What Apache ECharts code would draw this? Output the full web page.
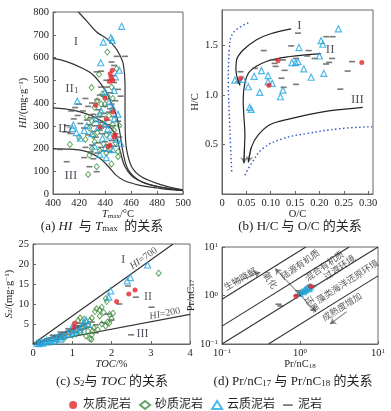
<!DOCTYPE html>
<html><head><meta charset="utf-8">
<script src="https://cdn.jsdelivr.net/npm/echarts@6/dist/echarts.min.js"></script>
<style>html,body{margin:0;padding:0;background:#fff}#c{width:391px;height:411px}</style>
</head><body><div id="c"></div>
<script>
// ---------- (a) HI vs Tmax ----------
const aRed = [[444,529],[444.6,512],[445.6,544],[446,500],[443.3,494],[432.8,390],[440,421],[436,295],[447.7,259],[443.8,215],[442.6,208],[447,251],[441,330],[446,360]];
const aGreen = [[441.8,624],[449,551],[435.4,526],[429.7,468],[413,218],[427,86],[433.6,120],[450,186],[450,164],[445,132],[438,440],[445,470],[440,395],[432,380],[436,350],[443,345],[430,320],[438,310],[446,305],[428,290],[434,270],[441,260],[447,280],[425,240],[432,230],[439,220],[444,200],[430,200],[436,190],[441,180],[428,170],[448,225],[437,395],[451,300],[426,340],[420,250],[434,410],[442,430],[446,420],[431,255]];
const aBlue = [[452.8,737],[444.6,687],[445.6,675],[438.7,668],[436.7,577],[451,544],[448,515],[418.7,408],[415.6,303],[415,288],[418,270],[421,245],[452,222],[440,450],[443,405],[437,365],[446,380],[433,330],[440,310],[447,330],[435,295],[442,285],[430,265],[444,255],[438,245],[426,300],[432,210],[440,200],[446,195],[436,175],[441,160],[449,240],[450,350],[424,280],[447,455]];
const aGray = [[410.5,142],[405.4,196],[428,120],[433.6,98],[445,580],[449,605],[455.4,605],[433.6,537],[437,540],[447,565],[441,500],[437,470],[447,490],[450,460],[452,430],[444,445],[439,430],[434,415],[430,400],[427,385],[423,365],[419,345],[416,330],[421,310],[426,325],[431,350],[435,370],[440,385],[445,395],[448,410],[443,360],[438,340],[433,320],[428,305],[424,290],[432,300],[437,315],[442,325],[447,340],[450,320],[446,300],[441,295],[436,280],[431,275],[427,260],[433,250],[438,265],[443,270],[448,265],[451,250],[445,235],[440,230],[435,225],[430,215],[425,205],[437,205],[442,215],[447,210],[444,185],[439,190],[434,180],[429,185],[424,160],[431,155],[420,395],[417,380],[414,365],[425,420],[436,435],[441,470],[446,520],[409,273],[413.6,266],[411,300],[439,355],[444,375],[435,340],[429,335],[442,305],[437,290]];
const aCurveA = [[419.5,800],[426,760],[433.6,712],[441.3,683],[447.7,646],[451.5,610],[454,573],[455.4,485],[455.4,369],[455.6,268],[456.7,193],[460.5,120],[468,76],[483.6,40],[500,18]];
const aCurveB = [[400,596],[410.5,582],[423,552],[431,523],[440,457],[445,398],[449,340],[451.5,267],[454,179],[458,105],[468,54],[485,28],[500,17]];
const aCurveC = [[400,379],[415.6,369],[428.5,347],[436,325],[443,298],[447.7,267],[451.5,193],[455.4,120],[463,69],[478,36],[500,16]];
const aCurveD = [[400,198],[415.6,196],[426,186],[436,157],[444,112],[448,85],[455,58],[467,38],[483,24],[500,15]];
const aLabels = [[417.7,670,'I'],[414.5,465,'II{s|1}'],[409,289,'II{s|2}'],[413.8,80,'III']];

// ---------- (b) H/C vs O/C ----------
const bRed = [[0.115,1.35],[0.038,1.17],[0.096,1.10],[0.287,1.33]];
const bBlue = [[0.0265,1.152],[0.0435,1.158],[0.054,1.084],[0.057,0.875],[0.06,0.855],[0.066,1.19],[0.0776,1.027],[0.081,1.247],[0.0946,1.196],[0.0946,1.135],[0.103,1.118],[0.12,0.983],[0.125,1.05],[0.1435,1.328],[0.151,1.328],[0.156,1.338],[0.158,1.48],[0.168,1.264],[0.183,1.18],[0.2,1.395],[0.2035,1.55],[0.207,1.514],[0.209,1.22],[0.239,1.67]];
const bGray = [[0.156,1.626],[0.0857,1.45],[0.038,1.236],[0.0673,1.27],[0.108,1.355],[0.108,1.32],[0.11,1.29],[0.1286,1.25],[0.125,1.355],[0.122,1.17],[0.1265,1.078],[0.142,1.497],[0.152,1.37],[0.152,1.108],[0.175,1.395],[0.178,1.45],[0.19,1.37],[0.214,1.59],[0.227,1.59],[0.226,1.37],[0.2136,1.314],[0.22,1.33],[0.243,1.06],[0.258,1.243],[0.267,1.338]];
const bCurveI = [[0.142,1.67],[0.1,1.62],[0.071,1.56],[0.0435,1.456],[0.03,1.355],[0.0286,1.25],[0.032,1.16],[0.037,1.10]];
const bCurveII = [[0.203,1.42],[0.139,1.39],[0.091,1.34],[0.057,1.24],[0.047,1.12],[0.0435,0.95],[0.045,0.78],[0.047,0.61],[0.046,0.45],[0.045,0.31]];
const bCurveIII = [[0.289,0.875],[0.207,0.83],[0.139,0.76],[0.098,0.70],[0.074,0.594],[0.0606,0.476],[0.054,0.32]];
const bDotLeft = [[0.054,1.73],[0.023,1.63],[0.015,1.46],[0.013,1.12],[0.016,0.68],[0.020,0.22]];
const bDotRight = [[0.047,0.19],[0.0606,0.31],[0.084,0.46],[0.125,0.56],[0.173,0.61],[0.241,0.66],[0.308,0.68]];
const bLabels = [[0.159,1.70,'I'],[0.222,1.456,'II'],[0.278,0.95,'III']];

// ---------- (c) S2 vs TOC ----------
const cRed = [[2.6,13.5],[2.44,12.5],[2.13,10.6],[1.06,5.2],[1.04,4.1]];
const cGreen = [[3.2,17.7],[1.855,11.4],[1.88,10.6],[1.7,8.5],[1.75,9.2],[1.62,8.8],[1.8,7.9],[1.95,7.4],[2.0,6.3],[1.9,5.5],[1.75,5.0],[1.5,6.5],[1.45,5.8],[1.3,6.2],[1.2,6.5],[1.15,5.9],[1.4,4.8],[1.55,4.0],[1.65,3.6],[1.4,3.2],[1.2,2.9],[1.5,2.3],[1.45,1.3],[1.0,2.2],[0.8,1.5],[0.6,1.1],[1.7,7.0],[1.58,8.1],[1.25,3.8],[1.85,4.5],[2.04,7.7],[1.1,2.5],[1.35,2.0],[1.94,5.2],[1.52,3.3],[1.49,1.2]];
const cBlue = [[2.92,19.75],[2.4,15.8],[2.48,16.6],[1.98,13.3],[1.93,11.7],[0.1,0.2],[0.2,0.4],[0.3,0.6],[0.35,0.9],[0.45,1.0],[0.5,1.3],[0.6,1.4],[0.65,1.8],[0.75,1.9],[0.8,2.3],[0.9,2.5],[1.0,2.7],[1.05,3.0],[1.1,3.5],[1.2,3.6],[1.25,4.5],[1.3,5.5],[1.35,6.0],[1.4,5.0],[0.55,0.8],[0.4,0.5],[0.25,0.2],[0.7,1.2],[1.0,4.3],[0.15,0.1]];
const cGray = [[0.1,0.3],[0.15,0.5],[0.2,0.6],[0.25,0.8],[0.3,1.0],[0.35,1.2],[0.4,1.3],[0.45,1.5],[0.5,1.6],[0.55,1.9],[0.6,2.0],[0.65,2.2],[0.7,2.4],[0.75,2.6],[0.8,2.8],[0.85,3.0],[0.9,3.2],[0.95,3.4],[1.0,3.6],[1.05,3.8],[1.1,4.0],[1.15,4.2],[1.2,4.4],[1.25,4.6],[1.3,4.9],[1.35,5.1],[0.6,1.5],[0.7,1.8],[0.8,2.1],[0.9,2.4],[1.0,2.8],[1.1,3.1],[1.2,3.5],[1.3,3.8],[1.4,4.2],[0.5,2.2],[0.7,3.0],[0.9,3.8],[1.1,4.6],[1.2,5.2],[2.42,14.5],[2.62,11.7],[3.02,9.2],[2.0,6.0],[1.8,5.3],[1.6,4.8],[1.5,5.5],[2.2,10],[1.9,7.5],[2.5,2.3],[1.6,2.8]];
const cLines = [[[0,0],[3.57,25]],[[0,0],[4,7.4]]];
const cLabels = [[2.3,21,'I',0],[2.93,11.8,'II',0],[2.79,2.5,'III',0],[2.82,21.4,'{i|HI}=700',35],[3.36,7.6,'{i|HI}=200',11]];

// ---------- (d) Pr/nC17 vs Pr/nC18 ----------
const dRed = [[0.89,0.97],[1.37,1.56]];
const dBlue = [[1.2,1.35],[1.28,1.45],[1.35,1.5],[1.15,1.28],[1.3,1.38],[1.0,1.1],[1.1,1.2]];
const dGreen = [[1.25,1.42],[1.05,1.18]];
const dGray = [[0.95,1.25],[1.0,1.15],[1.05,1.1],[0.95,1.05],[1.2,1.3],[1.4,1.45],[0.53,0.66],[0.56,0.61],[1.5,1.6],[0.9,1.0],[1.15,1.22]];
const dLines = [[[0.1,0.84],[1.19,10]],[[0.1,0.234],[4.27,10]],[[0.1,0.1],[10,10]],[[0.394,0.1],[10,2.54]]];
const dArrows = [[[0.141,1.82],[0.309,3.02],0],[[0.481,3.6],[1.61,0.461],1],[[3.96,0.461],[2.43,0.258],0]];
const dLabels = [[0.171,2.2,'生物降解',30],[0.415,2.07,'氧化',-55],[1.42,0.664,'还原',-55],[1.0,4.4,'陆源有机质',35],[2.05,4.1,'混合有机质',35],[3.2,3.85,'过渡环境',35],[4.04,1.97,'藻类海洋还原环境',33],[3.43,0.585,'成熟度增加',32]];

const FF = "'Liberation Serif','Noto Sans CJK SC',serif";
function rich(fs){return {
  i:{fontStyle:'italic',fontFamily:FF,fontSize:fs,color:'#222'},
  s:{fontSize:Math.round(fs*0.7),fontFamily:FF,verticalAlign:'bottom',color:'#222'},
  p:{fontSize:Math.round(fs*0.68),fontFamily:FF,verticalAlign:'top',color:'#222'}
};}

const STY = {
  '灰质泥岩': {symbol:'circle', symbolSize:5, itemStyle:{color:'#e3262b'}},
  '砂质泥岩': {symbol:'diamond', symbolSize:[5,6], itemStyle:{color:'rgba(255,255,255,0)', borderColor:'#3f8f3f', borderWidth:1}},
  '云质泥岩': {symbol:'triangle', symbolSize:6, itemStyle:{color:'rgba(255,255,255,0)', borderColor:'#22a6e0', borderWidth:1.2}},
  '泥岩': {symbol:'rect', symbolSize:[6,1.6], itemStyle:{color:'#555'}}
};

const series = [];
function pts(gi, name, data){ series.push(Object.assign({type:'scatter', name, xAxisIndex:gi, yAxisIndex:gi, data, silent:true, z:5}, STY[name])); }
function curve(gi, data, style, smooth){ series.push({type:'line', xAxisIndex:gi, yAxisIndex:gi, data, smooth: smooth===undefined?0.35:smooth, showSymbol:false, symbol:'none', silent:true, lineStyle:Object.assign({color:'#333', width:1.2}, style||{}), z:3}); }
function arrow(gi, p1, p2, both){ series.push({type:'lines', coordinateSystem:'cartesian2d', xAxisIndex:gi, yAxisIndex:gi, symbol:[both?'arrow':'none','arrow'], symbolSize:6, silent:true, lineStyle:{color:'#222', width:1.1, curveness:0}, data:[{coords:[p1,p2]}], z:4}); }
function labels(gi, items, fs, family, color){
  series.push({type:'scatter', xAxisIndex:gi, yAxisIndex:gi, symbolSize:1, silent:true, z:8,
    itemStyle:{color:'rgba(0,0,0,0)'},
    data: items.map(it=>({value:[it[0],it[1]], name:it[2], label:{rotate: it[3]||0}})),
    label:{show:true, position:'inside', formatter:p=>p.name, fontSize:fs, fontFamily:family||FF, color:color||'#2a2a3a', rich:rich(fs)}
  });
}

// (a)
curve(0, aCurveA); curve(0, aCurveB); curve(0, aCurveC); curve(0, aCurveD);
pts(0,'泥岩',aGray); pts(0,'砂质泥岩',aGreen); pts(0,'云质泥岩',aBlue); pts(0,'灰质泥岩',aRed);
labels(0, aLabels, 13);
// (b)
curve(1, bDotLeft, {color:'#2f52c8', width:1.4, type:[1.5,2.5]}, 0.4);
curve(1, bDotRight, {color:'#2f52c8', width:1.4, type:[1.5,2.5]}, 0.4);
curve(1, bCurveI, {color:'#222'}); curve(1, bCurveII, {color:'#222'}); curve(1, bCurveIII, {color:'#222'});
arrow(1, bCurveI[bCurveI.length-2], bCurveI[bCurveI.length-1]);
arrow(1, bCurveII[bCurveII.length-2], bCurveII[bCurveII.length-1]);
arrow(1, bCurveIII[bCurveIII.length-2], bCurveIII[bCurveIII.length-1]);
pts(1,'泥岩',bGray); pts(1,'云质泥岩',bBlue); pts(1,'灰质泥岩',bRed);
labels(1, bLabels, 13);
// (c)
cLines.forEach(l=>curve(2, l, {color:'#333', width:1.2}, false));
pts(2,'泥岩',cGray); pts(2,'砂质泥岩',cGreen); pts(2,'云质泥岩',cBlue); pts(2,'灰质泥岩',cRed);
labels(2, cLabels.slice(0,3), 12);
labels(2, cLabels.slice(3), 10);
// (d)
dLines.forEach(l=>curve(3, l, {color:'#333', width:1.1}, false));
dArrows.forEach(a=>arrow(3, a[0], a[1], a[2]));
pts(3,'泥岩',dGray); pts(3,'砂质泥岩',dGreen); pts(3,'云质泥岩',dBlue); pts(3,'灰质泥岩',dRed);
labels(3, dLabels, 9, "'Noto Sans CJK SC'", '#333');

const axLine = {show:true, lineStyle:{color:'#666', width:1}};
const axTick = {show:true, inside:true, length:3, lineStyle:{color:'#666'}};
const axLab = {fontSize:10.5, color:'#222', fontFamily:FF, margin:4};
const nameStyle = fs => ({fontSize:fs, color:'#222', fontFamily:FF, rich:rich(fs)});
function X(o){ return Object.assign({type:'value', axisLine:axLine, axisTick:axTick, splitLine:{show:false}, nameLocation:'middle', nameGap:14, nameTextStyle:nameStyle(10.5)}, o, {axisLabel:Object.assign({}, axLab, o.axisLabel||{})}); }
function Y(o){ return Object.assign({type:'value', axisLine:axLine, axisTick:axTick, splitLine:{show:false}, nameLocation:'middle', nameTextStyle:nameStyle(10.5)}, o, {axisLabel:Object.assign({}, axLab, o.axisLabel||{})}); }
const logFmt = v => v < 0.5 ? '10{p|−1}' : (v < 5 ? '10{p|0}' : '10{p|1}');

const option = {
  animation:false,
  backgroundColor:'#fff',
  title:[
    {text:'(a) {i|HI}  与 {i|T}{s|max}  的关系', left:102, top:220},
    {text:'(b) H/C 与 O/C 的关系', left:300, top:220},
    {text:'(c) {i|S}{s|2}与 {i|TOC} 的关系', left:112, top:375},
    {text:'(d) Pr/nC{s|17} 与 Pr/nC{s|18} 的关系', left:293, top:375}
  ].map(t=>Object.assign(t,{textAlign:'center', padding:0, textStyle:{fontSize:13, fontWeight:'normal', fontFamily:FF, color:'#222', rich:rich(13)}})),
  legend:{top:394, left:'center', itemWidth:10, itemHeight:8, itemGap:8,
    textStyle:{fontSize:12, fontFamily:FF, color:'#222'},
    data:[{name:'灰质泥岩', icon:'circle'},{name:'砂质泥岩', icon:'diamond'},{name:'云质泥岩', icon:'triangle'},{name:'泥岩', icon:'path://M0,0M12,10M0,4h12v2.2h-12z'}]},
  grid:[
    {left:53, top:12, width:130, height:182},
    {left:222, top:10, width:151, height:184},
    {left:33, top:244, width:157, height:100},
    {left:222, top:247, width:156, height:97}
  ].map(g=>Object.assign(g,{show:true, borderColor:'#666', borderWidth:1, backgroundColor:'rgba(0,0,0,0)'})),
  xAxis:[
    X({gridIndex:0, min:400, max:500, interval:20, name:'{i|T}{s|max}/°C'}),
    X({gridIndex:1, min:0, max:0.31, interval:0.05, name:'O/C', axisLabel:{showMaxLabel:false, formatter:v=>v===0?'0':v.toFixed(2)}}),
    X({gridIndex:2, min:0, max:4, interval:1, name:'{i|TOC}/%'}),
    X({gridIndex:3, type:'log', logBase:10, min:0.1, max:10, name:'Pr/nC{s|18}', nameGap:13, minorTick:{show:false}, axisLabel:{formatter:logFmt, rich:rich(10.5)}})
  ],
  yAxis:[
    Y({gridIndex:0, min:0, max:800, interval:100, name:'{i|HI}/(mg·g{p|−1})', nameGap:25}),
    Y({gridIndex:1, min:0, max:1.86, interval:0.5, name:'H/C', nameGap:19, axisLabel:{showMinLabel:false, showMaxLabel:false, formatter:v=>v.toFixed(1)}}),
    Y({gridIndex:2, min:0, max:25, interval:5, name:'{i|S}{s|2}/(mg·g{p|−1})', nameGap:19, axisLabel:{showMinLabel:false}}),
    Y({gridIndex:3, type:'log', logBase:10, min:0.1, max:10, name:'Pr/nC{s|17}', nameGap:22, minorTick:{show:false}, axisLabel:{formatter:logFmt, rich:rich(10.5)}})
  ],
  series
};
const chart = echarts.init(document.getElementById('c'));
chart.setOption(option);
</script></body></html>
